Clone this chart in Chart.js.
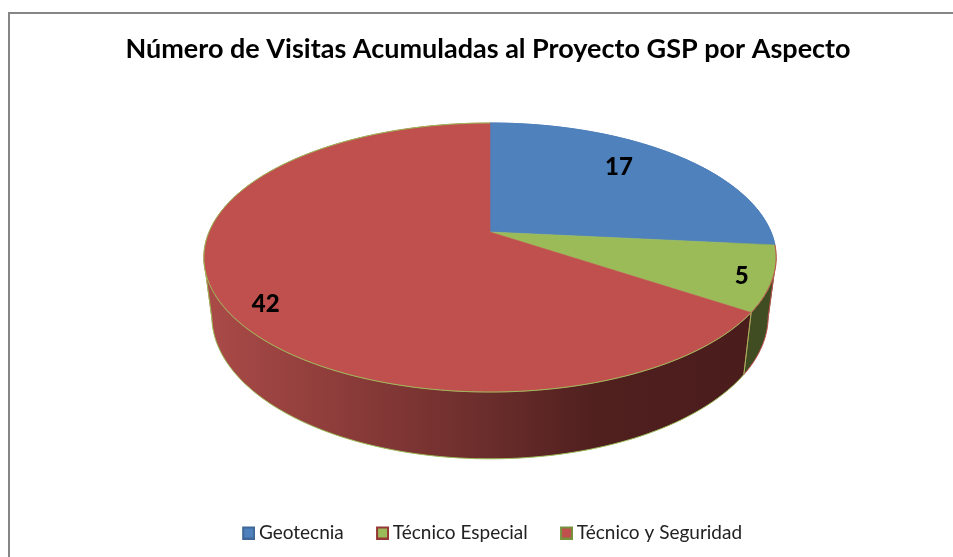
<!DOCTYPE html>
<html><head><meta charset="utf-8">
<script src="https://cdn.jsdelivr.net/npm/chart.js@4"></script>
<style>html,body{margin:0;padding:0;background:#fff}#w{width:953px;height:557px;position:relative}</style>
</head><body><div id="w"><canvas id="c"></canvas></div>
<script>
const titleText = "Número de Visitas Acumuladas al Proyecto GSP por Aspecto";
const categories = ["Geotecnia", "Técnico Especial", "Técnico y Seguridad"];
const visits = [17, 5, 42];
const fillColors = ["#4F81BD", "#9BBB59", "#C0504D"];
const edgeColors = ["#4F81BD", "#C0504D", "#9BBB59"];
const swatchEdges = ["#3f6797", "#953735", "#76923c"];
const labelRadius = [0.75, 0.90, 0.88];
const labelTurnDeg = [-5.3, 1, -6.7];

// camera of the tilted disc
const apexX = 490, apexY = 232, widestY = 257.5;
const persp = -0.1896, lift = 85.7 / 281, depthX = 0.972, depthYS = 1.06, depthYT = 43.3;
const legendNudge = 4.5;
function project(arc, theta, f) {
  const u = Math.sin(theta) * f, v = -Math.cos(theta) * f, w = 1 + persp * v;
  const r = arc.outerRadius;
  return { x: apexX + r * u / w, y: (r * lift * v + apexY) / w };
}
function lower(p) {
  return { x: apexX + (p.x - apexX) * depthX, y: p.y * depthYS + depthYT };
}
function arcPts(arc) {
  const a0 = arc.startAngle + Math.PI / 2, a1 = arc.endAngle + Math.PI / 2;
  const n = Math.max(8, Math.ceil((a1 - a0) * 40)), pts = [];
  for (let i = 0; i <= n; i++) pts.push(project(arc, a0 + (a1 - a0) * i / n, 1));
  return pts;
}
function trace(ctx, pts, start) {
  pts.forEach((p, i) => (i === 0 && start) ? ctx.moveTo(p.x, p.y) : ctx.lineTo(p.x, p.y));
}
function quad(ctx, a, b, c, d) {
  const area = (b.x - a.x) * (c.y - a.y) - (b.y - a.y) * (c.x - a.x);
  const q = area >= 0 ? [a, b, c, d] : [d, c, b, a];
  ctx.moveTo(q[0].x, q[0].y); ctx.lineTo(q[1].x, q[1].y); ctx.lineTo(q[2].x, q[2].y); ctx.lineTo(q[3].x, q[3].y); ctx.closePath();
}
function swatch(fill, edge) {
  const c = document.createElement("canvas"); c.width = 18; c.height = 14;
  const x = c.getContext("2d");
  x.fillStyle = fill; x.strokeStyle = edge; x.lineWidth = 2;
  x.fillRect(6, 2, 11, 11); x.strokeRect(6, 2, 11, 11);
  return c;
}
const disc3d = {
  id: "disc3d",
  afterLayout(chart) {
    chart.legend.left += legendNudge; chart.legend.right += legendNudge;
  },
  beforeDraw(chart) {
    const ctx = chart.ctx;
    ctx.save();
    ctx.strokeStyle = "#868686"; ctx.lineWidth = 2;
    ctx.beginPath(); ctx.moveTo(9, 557); ctx.lineTo(9, 13); ctx.lineTo(953, 13); ctx.stroke();
    ctx.restore();
  },
  beforeDatasetDraw() { return false; },
  afterDatasetsDraw(chart) {
    const ctx = chart.ctx, arcs = chart.getDatasetMeta(0).data, ds = chart.data.datasets[0];
    ctx.save();
    // walls
    arcs.forEach((arc, i) => {
      const top = arcPts(arc), bot = top.map(lower);
      const g = ctx.createLinearGradient(213, 0, 743, 0);
      if (i === 2) {
        g.addColorStop(0, "#a94a47"); g.addColorStop(0.35, "#7f3634"); g.addColorStop(0.52, "#6a2d2b");
        g.addColorStop(0.72, "#50201f"); g.addColorStop(1, "#4a1c1b");
      } else if (i === 1) { g.addColorStop(0, "#404c22"); g.addColorStop(1, "#404c22"); }
      else { g.addColorStop(0, "#2c4a6e"); g.addColorStop(1, "#2c4a6e"); }
      ctx.fillStyle = g;
      ctx.beginPath();
      for (let k = 0; k < top.length - 1; k++) quad(ctx, top[k], top[k + 1], bot[k + 1], bot[k]);
      ctx.fill("nonzero");
    });
    // wall edges
    arcs.forEach((arc, i) => {
      const top = arcPts(arc).filter(p => p.y >= widestY);
      if (top.length < 2) return;
      const bot = top.map(lower), last = top.length - 1;
      ctx.strokeStyle = ds.borderColor[i]; ctx.lineWidth = 1;
      ctx.beginPath(); trace(ctx, bot, true); ctx.stroke();
      ctx.beginPath(); trace(ctx, [top[0], bot[0]], true); ctx.stroke();
      ctx.beginPath(); trace(ctx, [top[last], bot[last]], true); ctx.stroke();
    });
    // top face
    arcs.forEach((arc, i) => {
      const top = arcPts(arc), c = project(arc, 0, 0);
      ctx.beginPath(); ctx.moveTo(c.x, c.y); trace(ctx, top, false); ctx.closePath();
      ctx.fillStyle = ds.backgroundColor[i]; ctx.fill();
      ctx.strokeStyle = ds.backgroundColor[i]; ctx.lineWidth = 0.6; ctx.stroke();
    });
    arcs.forEach((arc, i) => {
      ctx.beginPath(); trace(ctx, arcPts(arc), true);
      ctx.strokeStyle = ds.borderColor[i]; ctx.lineWidth = 1; ctx.stroke();
    });
    // value labels
    ctx.fillStyle = "#000"; ctx.font = "900 24px Lato"; ctx.textAlign = "center"; ctx.textBaseline = "middle";
    arcs.forEach((arc, i) => {
      const mid = (arc.startAngle + arc.endAngle) / 2 + Math.PI / 2 + labelTurnDeg[i] * Math.PI / 180;
      const p = project(arc, mid, labelRadius[i]);
      ctx.fillText(String(ds.data[i]), p.x, p.y);
    });
    ctx.restore();
  }
};
new Chart(document.getElementById("c"), {
  type: "pie",
  data: { labels: categories, datasets: [{ data: visits, backgroundColor: fillColors, borderColor: edgeColors, borderWidth: 1, radius: 281 }] },
  plugins: [disc3d],
  options: {
    responsive: true, maintainAspectRatio: false, animation: false,
    layout: { padding: { left: 23, top: 33, bottom: 5 } },
    plugins: {
      tooltip: { enabled: false },
      title: { display: true, text: titleText, color: "#000", font: { family: "Lato", size: 27, weight: "bold" }, padding: { top: 0, bottom: 10 } },
      legend: { position: "bottom", labels: {
        color: "#222", font: { family: "Lato", size: 19 }, usePointStyle: true, pointStyleWidth: 6.5, boxWidth: 12, boxHeight: 12, padding: 33,
        generateLabels(chart) {
          return Chart.overrides.doughnut.plugins.legend.labels.generateLabels(chart)
            .map((l, i) => ({ ...l, pointStyle: swatch(fillColors[i], swatchEdges[i]) }));
        }
      } }
    }
  }
});
</script></body></html>
